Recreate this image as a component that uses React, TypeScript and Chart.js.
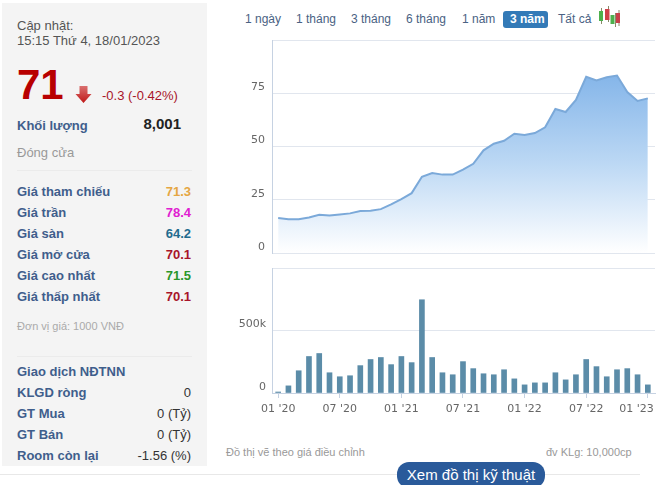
import React, { useEffect, useRef } from "react";
import { Chart, registerables } from "chart.js";

Chart.register(...registerables);

const priceValues = [
  16.4, 15.9, 15.9, 16.7, 17.9, 17.6, 18.1, 18.6, 19.7, 19.8, 20.6, 22.8, 25.3, 28.1, 35.8, 37.5, 36.8, 36.8, 39.1,
  41.9, 48.2, 51.3, 52.7, 56, 55.4, 56.3, 59, 67.6, 66.2, 71.9, 82.7, 81, 82.5, 83.3, 75.6, 71.4, 72.6,
];
const volumeValues = [
  8, 57, 178, 292, 316, 162, 130, 138, 219, 268, 284, 227, 292, 243, 746, 284, 162, 146, 251, 195, 154, 146, 186, 113,
  65, 81, 81, 162, 105, 146, 268, 211, 130, 186, 195, 146, 65,
];
const xTickValues = [0, 6, 12, 18, 24, 30, 34.9, 36];
const xTickLabels = ["01 '20", "07 '20", "01 '21", "07 '21", "01 '22", "07 '22", "01 '23", ""];
const priceTicks = [0, 25, 50, 75, 100];
const volumeTicks = [0, 500, 1000];
const tabs: [string, number][] = [
  ["1 ngày", 245],
  ["1 tháng", 296],
  ["3 tháng", 351],
  ["6 tháng", 406],
  ["1 năm", 462],
  ["Tất cả", 558],
];
const priceRows: [string, string, string, number][] = [
  ["Giá tham chiếu", "71.3", "#e5a643", 191],
  ["Giá trần", "78.4", "#e020d0", 212],
  ["Giá sàn", "64.2", "#1f6b8e", 233],
  ["Giá mở cửa", "70.1", "#a8142a", 254],
  ["Giá cao nhất", "71.5", "#2a962a", 275],
  ["Giá thấp nhất", "70.1", "#a8142a", 296],
];
const foreignRows: [string, string, number][] = [
  ["KLGD ròng", "0", 392],
  ["GT Mua", "0 (Tỷ)", 413],
  ["GT Bán", "0 (Tỷ)", 434],
  ["Room còn lại", "-1.56 (%)", 455],
];

const AXIS_FONT = { family: "'DejaVu Sans'", size: 11 };
const GRID = "#e1e6ee";
const BORDER = "#c6d2e2";
const SANS = "'Liberation Sans', Arial, sans-serif";
const X_MIN = -0.6;
const X_MAX = 36.7;

function T(props: {
  x?: number;
  right?: number;
  y: number;
  size?: number;
  color?: string;
  bold?: boolean;
  children: React.ReactNode;
}) {
  const { x, right, y, size = 13, color = "#3f5e8c", bold, children } = props;
  const style: React.CSSProperties = {
    position: "absolute",
    top: y,
    transform: "translateY(-50%)",
    fontSize: size,
    lineHeight: 1,
    color,
    fontWeight: bold ? 700 : 400,
    whiteSpace: "nowrap",
    fontFamily: SANS,
  };
  if (x !== undefined) style.left = x;
  if (right !== undefined) style.right = 663 - right;
  return <div style={style}>{children}</div>;
}

function Line(props: { x: number; y: number; w: number; color: string }) {
  return (
    <div
      style={{
        position: "absolute",
        left: props.x,
        top: props.y,
        width: props.w,
        height: 1,
        background: props.color,
      }}
    />
  );
}

export default function App() {
  const priceRef = useRef<HTMLCanvasElement>(null);
  const volumeRef = useRef<HTMLCanvasElement>(null);

  useEffect(() => {
    const fitY = (scale: any) => {
      scale.width = 52;
      scale.paddingTop = 0;
      scale.paddingBottom = 0;
    };
    const price = new Chart(priceRef.current!, {
      type: "line",
      data: {
        datasets: [
          {
            data: priceValues.map((y, x) => ({ x, y })),
            borderColor: "#7ba9d9",
            borderWidth: 2,
            pointRadius: 0,
            tension: 0,
            fill: "origin",
            backgroundColor: (ctx: any) => {
              const area = ctx.chart.chartArea;
              if (!area) return "#a0c8f0";
              const yTop = ctx.chart.scales.y.getPixelForValue(84);
              const g = ctx.chart.ctx.createLinearGradient(0, yTop, 0, area.bottom);
              g.addColorStop(0, "#84b5e9");
              g.addColorStop(0.5, "#bcd8f4");
              g.addColorStop(1, "#ffffff");
              return g;
            },
          },
        ],
      },
      options: {
        responsive: false,
        animation: false,
        layout: { padding: { top: 10, right: 8, bottom: 2, left: 0 } },
        plugins: { legend: { display: false }, tooltip: { enabled: false } },
        scales: {
          x: { type: "linear", min: X_MIN, max: X_MAX, display: false },
          y: {
            min: 0,
            max: 100,
            afterFit: fitY,
            afterBuildTicks: (s: any) => {
              s.ticks = priceTicks.map((value) => ({ value }));
            },
            grid: { color: GRID, drawTicks: false },
            border: { color: BORDER },
            ticks: {
              font: AXIS_FONT,
              color: "#666666",
              padding: 7,
              labelOffset: -6,
              callback: (v: any) => (v === 100 ? "" : String(v)),
            },
          },
        },
      },
    } as any);

    const volume = new Chart(volumeRef.current!, {
      type: "bar",
      data: {
        datasets: [
          {
            data: volumeValues.map((y, x) => ({ x, y })),
            backgroundColor: "#5b8ca8",
            barThickness: 5,
          },
        ],
      },
      options: {
        responsive: false,
        animation: false,
        layout: { padding: { top: 10, right: 8, bottom: 0, left: 0 } },
        plugins: { legend: { display: false }, tooltip: { enabled: false } },
        scales: {
          x: {
            type: "linear",
            offset: false,
            min: X_MIN,
            max: X_MAX,
            afterFit: (s: any) => {
              s.height = 30;
              s.paddingLeft = 0;
              s.paddingRight = 0;
            },
            afterBuildTicks: (s: any) => {
              s.ticks = xTickValues.map((value) => ({ value }));
            },
            grid: {
              offset: false,
              drawOnChartArea: false,
              tickLength: 5,
              tickColor: (ctx: any) => (xTickValues[ctx.index] === 34.9 ? "rgba(0,0,0,0)" : BORDER),
            },
            border: { color: BORDER },
            ticks: {
              font: AXIS_FONT,
              color: "#666666",
              autoSkip: false,
              maxRotation: 0,
              padding: 5,
              callback: (_v: any, i: number) => xTickLabels[i],
            },
          },
          y: {
            min: 0,
            max: 1000,
            afterFit: fitY,
            afterBuildTicks: (s: any) => {
              s.ticks = volumeTicks.map((value) => ({ value }));
            },
            grid: { color: GRID, drawTicks: false },
            border: { color: BORDER },
            ticks: {
              font: AXIS_FONT,
              color: "#666666",
              padding: 6,
              labelOffset: -6,
              callback: (v: any) => (v === 1000 ? "" : v === 0 ? "0" : v + "k"),
            },
          },
        },
      },
    } as any);

    return () => {
      price.destroy();
      volume.destroy();
    };
  }, []);

  return (
    <div style={{ position: "absolute", left: 0, top: 0, width: 663, height: 485, overflow: "hidden", background: "#fff" }}>
      <div style={{ position: "absolute", left: 2, top: 3, width: 205, height: 463, background: "#f4f4f4" }} />
      <T x={17} y={25} size={13} color="#555">Cập nhật:</T>
      <T x={17} y={40} size={13} color="#555">15:15 Thứ 4, 18/01/2023</T>
      <T x={17} y={85} size={42} color="#b80000" bold>71</T>
      <svg style={{ position: "absolute", left: 75, top: 85 }} width={17} height={19} viewBox="0 0 17 19">
        <defs>
          <linearGradient id="arr" x1="0" y1="0" x2="0" y2="1">
            <stop offset="0" stopColor="#d9706f" />
            <stop offset="1" stopColor="#c01818" />
          </linearGradient>
        </defs>
        <path d="M4.5 1 H12.5 V9 H16.5 L8.5 18 L0.5 9 H4.5 Z" fill="url(#arr)" />
      </svg>
      <T x={102} y={95} size={13} color="#a8142a">-0.3 (-0.42%)</T>
      <T x={17} y={125} bold>Khối lượng</T>
      <T right={181} y={123} size={15} color="#222" bold>8,001</T>
      <T x={17} y={152} color="#999">Đóng cửa</T>
      <Line x={17} y={170} w={175} color="#ebebeb" />
      {priceRows.map(([label, value, color, y]) => (
        <React.Fragment key={label}>
          <T x={17} y={y} bold>{label}</T>
          <T right={191} y={y} color={color} bold>{value}</T>
        </React.Fragment>
      ))}
      <T x={17} y={326} size={11} color="#aaa">Đơn vị giá: 1000 VNĐ</T>
      <Line x={17} y={356} w={175} color="#ebebeb" />
      <T x={17} y={371} bold>Giao dịch NĐTNN</T>
      {foreignRows.map(([label, value, y]) => (
        <React.Fragment key={label}>
          <T x={17} y={y} bold>{label}</T>
          <T right={191} y={y} color="#333">{value}</T>
        </React.Fragment>
      ))}

      {tabs.map(([label, x]) => (
        <T key={label} x={x} y={19} size={12} color="#4a6283">{label}</T>
      ))}
      <div style={{ position: "absolute", left: 503, top: 11, width: 45, height: 17, background: "#337ab7", borderRadius: 3 }} />
      <T x={510} y={19} size={12} color="#fff" bold>3 năm</T>
      <svg style={{ position: "absolute", left: 598, top: 6 }} width={22} height={21} viewBox="0 0 22 21">
        <path d="M3.5 2V18M10.5 0V16M17.5 7V21M21 4V20" stroke="#8a8a6a" strokeWidth={1} />
        <rect x={1} y={5} width={4} height={10} fill="#4db04d" />
        <rect x={7} y={3} width={4.5} height={11} fill="#d0404a" />
        <rect x={12.5} y={9} width={4} height={9} fill="#4db04d" />
        <rect x={18} y={7} width={4} height={10} fill="#c8404a" />
      </svg>

      <canvas ref={priceRef} width={443} height={225} style={{ position: "absolute", left: 220, top: 30, width: 443, height: 225 }} />
      <canvas ref={volumeRef} width={443} height={165} style={{ position: "absolute", left: 220, top: 258, width: 443, height: 165 }} />

      <T x={226} y={452} size={11} color="#999">Đồ thị vẽ theo giá điều chỉnh</T>
      <T x={546} y={452} size={11} color="#999">đv KLg: 10,000cp</T>
      <Line x={0} y={474} w={640} color="#e8e8e8" />
      <div
        style={{
          position: "absolute",
          left: 397,
          top: 462,
          width: 148,
          height: 26,
          background: "#2a5a9a",
          borderRadius: 12,
          color: "#fff",
          fontFamily: SANS,
          fontSize: 15,
          lineHeight: "25px",
          textAlign: "center",
          whiteSpace: "nowrap",
        }}
      >
        Xem đồ thị kỹ thuật
      </div>
    </div>
  );
}
